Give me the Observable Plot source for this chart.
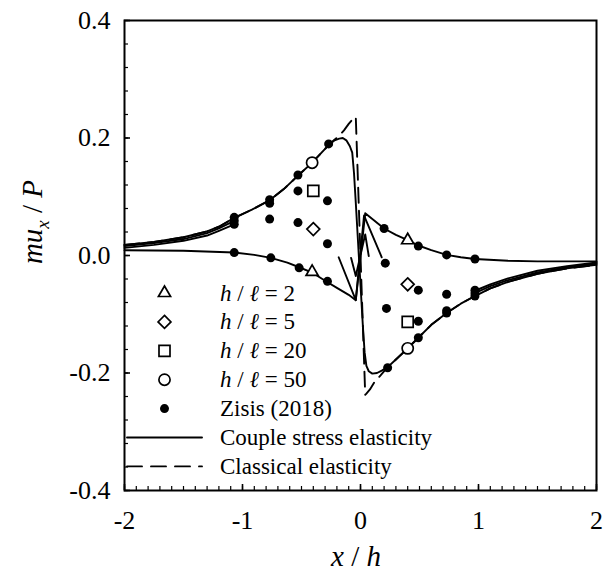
<!DOCTYPE html>
<html><head><meta charset="utf-8">
<script src="https://cdn.jsdelivr.net/npm/d3@7"></script>
<script src="https://cdn.jsdelivr.net/npm/@observablehq/plot@0.6"></script>
<style>
body{margin:0;background:#fff}
#chart{width:605px;height:577px}
</style>
</head><body><div id="chart"></div>
<script>
// ---------- data ----------
// Couple stress elasticity, h/l = 50
const h50X = [-2,-1.75,-1.5,-1.3,-1.2,-1.07,-0.92,-0.77,-0.65,-0.53,-0.41,-0.33,-0.27,-0.22,-0.18,-0.15,-0.12,-0.09,-0.07,-0.055,-0.04,-0.02,0,0.02,0.035,0.05,0.07,0.1,0.14,0.18,0.23,0.3,0.4,0.49,0.6,0.73,0.85,0.97,1.1,1.25,1.5,1.75,2];
const h50Y = [0.018,0.023,0.031,0.041,0.049,0.064,0.078,0.094,0.113,0.136,0.158,0.175,0.188,0.196,0.199,0.2,0.196,0.186,0.175,0.14,0.09,0.02,-0.05,-0.12,-0.165,-0.188,-0.197,-0.201,-0.2,-0.196,-0.19,-0.177,-0.158,-0.14,-0.118,-0.098,-0.082,-0.069,-0.056,-0.045,-0.031,-0.022,-0.016];
// h/l = 20 (visible pieces)
const h20X = [-2,-1.75,-1.5,-1.3,-1.2,-1.07,null,-0.08,-0.04,0.04,0.07,null,0.97,1.1,1.25,1.5,1.75,2];
const h20Y = [0.016,0.021,0.028,0.038,0.046,0.059,null,-0.004,-0.035,0.036,-0.001,null,-0.064,-0.052,-0.042,-0.029,-0.02,-0.014];
// h/l = 5 (visible pieces)
const h5X = [-2,-1.75,-1.5,-1.3,-1.2,-1.07,null,-0.185,-0.04,0.03,0.18,null,0.97,1.1,1.25,1.5,1.75,2];
const h5Y = [0.013,0.018,0.025,0.034,0.042,0.053,null,-0.003,-0.076,0.068,-0.003,null,-0.06,-0.049,-0.039,-0.026,-0.018,-0.012];
// h/l = 2
const h2X = [-2,-1.5,-1.07,-0.9,-0.76,-0.62,-0.52,-0.41,-0.3,-0.2,-0.1,-0.04,0.04,0.2,0.3,0.4,0.49,0.6,0.73,0.85,0.97,1.25,1.5,2];
const h2Y = [0.009,0.008,0.005,0.001,-0.004,-0.012,-0.02,-0.029,-0.043,-0.055,-0.067,-0.076,0.072,0.046,0.035,0.026,0.017,0.009,0.001,-0.003,-0.006,-0.009,-0.01,-0.01];
// Classical elasticity
const clX = [-2,-1.75,-1.5,-1.3,-1.2,-1.07,-0.92,-0.77,-0.65,-0.53,-0.41,-0.33,-0.27,-0.22,-0.18,-0.14,-0.1,-0.07,-0.05,-0.04,0.04,0.05,0.08,0.12,0.17,0.23,0.3,0.4,0.49,0.6,0.73,0.85,0.97,1.1,1.25,1.5,1.75,2];
const clY = [0.018,0.023,0.031,0.041,0.049,0.064,0.078,0.094,0.113,0.136,0.158,0.175,0.188,0.197,0.204,0.213,0.224,0.231,0.235,0.236,-0.237,-0.235,-0.228,-0.215,-0.204,-0.19,-0.177,-0.158,-0.14,-0.118,-0.098,-0.082,-0.069,-0.056,-0.045,-0.031,-0.022,-0.016];
// hollow markers
const triX = [-0.41, 0.40], triY = [-0.028, 0.026];
const diaX = [-0.40, 0.40], diaY = [0.045, -0.049];
const sqX  = [-0.40, 0.40], sqY  = [0.110, -0.113];
const cirX = [-0.41, 0.40], cirY = [0.158, -0.158];
// Zisis (2018)
const zX = [-1.07,-1.07,-1.07,-1.07,-0.77,-0.77,-0.77,-0.76,-0.53,-0.53,-0.53,-0.52,-0.27,-0.28,-0.28,-0.28,0.20,0.21,0.22,0.23,0.49,0.49,0.49,0.49,0.73,0.73,0.73,0.73,0.97,0.97,0.97,0.97];
const zY = [0.065,0.059,0.053,0.005,0.095,0.089,0.062,-0.004,0.137,0.110,0.056,-0.021,0.190,0.093,0.020,-0.044,0.046,-0.013,-0.090,-0.191,0.016,-0.059,-0.112,-0.140,0.001,-0.066,-0.094,-0.098,-0.006,-0.059,-0.064,-0.069];
// ticks
const xTicks = [-2,-1,0,1,2], xTickLabels = ["-2","-1","0","1","2"];
const yTicks = [-0.4,-0.2,0,0.2,0.4], yTickLabels = ["-0.4","-0.2","0.0","0.2","0.4"];
const legendLabels = ["2","5","20","50"];

// ---------- layout ----------
const W = 605, H = 577, ML = 124, MR = 9, MT = 20, MB = 87;
const PW = W - ML - MR, PH = H - MT - MB;
const FONT = "Liberation Serif, Times New Roman, serif";
const TICKFS = 26, TITLEFS = 29, LF = 23;

const pts = (xs, ys) => xs.map((x, i) => ({x, y: ys[i]}));
const xMinor = d3.range(0, 41).map(i => -2 + i * 0.1);
const yMinor = d3.range(0, 21).map(i => -0.4 + i * 0.04);

// legend positions (pixel -> data)
const sx = d3.scaleLinear([-2, 2], [ML, W - MR]);
const sy = d3.scaleLinear([-0.4, 0.4], [H - MB, MT]);
const rowY = i => 292.5 + 28.9 * i;
const legSymX = sx.invert(164);

const lineStyle = {x: "x", y: "y", stroke: "black", strokeWidth: 1.9};
const hollow = {x: "x", y: "y", stroke: "black", strokeWidth: 1.7, fill: "white"};

const markerDefs = [
  {xs: triX, ys: triY, symbol: "triangle2", r: 5.8},
  {xs: diaX, ys: diaY, symbol: "diamond2", r: 5.8},
  {xs: sqX, ys: sqY, symbol: "square2", r: 7.0},
  {xs: cirX, ys: cirY, symbol: "circle", r: 5.6}
];

const marks = [
  Plot.line(pts(clX, clY), {...lineStyle, strokeDasharray: "15,8"}),
  Plot.line(pts(h2X, h2Y), lineStyle),
  Plot.line(pts(h5X, h5Y), lineStyle),
  Plot.line(pts(h20X, h20Y), lineStyle),
  Plot.line(pts(h50X, h50Y), lineStyle),
  Plot.dot(pts(zX, zY), {x: "x", y: "y", r: 4.5, fill: "black", stroke: "none"}),
  ...markerDefs.map(m => Plot.dot(pts(m.xs, m.ys), {...hollow, symbol: m.symbol, r: m.r})),
  // legend symbols
  ...markerDefs.map((m, i) => Plot.dot([{x: legSymX, y: sy.invert(rowY(i))}], {...hollow, symbol: m.symbol, r: m.r})),
  Plot.dot([{x: legSymX, y: sy.invert(rowY(4))}], {x: "x", y: "y", r: 4.5, fill: "black"}),
  Plot.line([{x: sx.invert(126.5), y: sy.invert(rowY(5))}, {x: sx.invert(201.5), y: sy.invert(rowY(5))}], lineStyle),
  Plot.line([{x: sx.invert(126.5), y: sy.invert(rowY(6))}, {x: sx.invert(201.5), y: sy.invert(rowY(6))}], {...lineStyle, strokeDasharray: "15,9"}),
  // inside ticks
  Plot.ruleY(yMinor, {y: d => d, insetRight: PW - 4, stroke: "black", strokeWidth: 1.2}),
  Plot.ruleY(yTicks, {y: d => d, insetRight: PW - 6, stroke: "black", strokeWidth: 1.6}),
  Plot.ruleX(xMinor, {x: d => d, insetTop: PH - 4, stroke: "black", strokeWidth: 1.2}),
  Plot.ruleX(xTicks, {x: d => d, insetTop: PH - 6, stroke: "black", strokeWidth: 1.6}),
  Plot.axisX({ticks: xTicks, tickSize: 0, tickPadding: 20, tickFormat: (d) => xTickLabels[xTicks.indexOf(d)], label: null, fontSize: TICKFS, fontFamily: FONT}),
  Plot.axisY({ticks: yTicks, tickSize: 0, tickPadding: 14, tickFormat: (d) => yTickLabels[yTicks.findIndex(t => Math.abs(t - d) < 1e-9)], label: null, fontSize: TICKFS, fontFamily: FONT}),
  Plot.frame({stroke: "black", strokeWidth: 2})
];

const svg = Plot.plot({
  width: W, height: H,
  marginLeft: ML, marginRight: MR, marginTop: MT, marginBottom: MB,
  x: {domain: [-2, 2]},
  y: {domain: [-0.4, 0.4]},
  style: {fontSize: TICKFS + "px", color: "black", background: "white", overflow: "visible"},
  marks
});

// ---------- rich text: legend labels and axis titles ----------
const g = d3.select(svg).append("g").attr("font-family", FONT).attr("fill", "black").attr("text-anchor", "start");
legendLabels.forEach((n, i) => {
  const t = g.append("text").attr("x", 220).attr("y", rowY(i) + 8).attr("font-size", LF);
  t.append("tspan").attr("font-style", "italic").text("h");
  t.append("tspan").text(" / ");
  t.append("tspan").attr("font-style", "italic").text("ℓ");
  t.append("tspan").text(" = " + n);
});
g.append("text").attr("x", 220).attr("y", rowY(4) + 8).attr("font-size", LF).text("Zisis (2018)");
g.append("text").attr("x", 220).attr("y", rowY(5) + 8).attr("font-size", LF).text("Couple stress elasticity");
g.append("text").attr("x", 220).attr("y", rowY(6) + 8).attr("font-size", LF).text("Classical elasticity");

// x title
const xt = g.append("text").attr("x", 356).attr("y", 566).attr("text-anchor", "middle").attr("font-size", TITLEFS);
xt.append("tspan").attr("font-style", "italic").text("x");
xt.append("tspan").text(" / ");
xt.append("tspan").attr("font-style", "italic").text("h");

// y title
const yt = g.append("text").attr("transform", "translate(42,222) rotate(-90)").attr("text-anchor", "middle").attr("font-size", TITLEFS);
yt.append("tspan").attr("font-style", "italic").text("mu");
yt.append("tspan").attr("font-style", "italic").attr("font-size", 19).attr("dy", 7).text("x");
yt.append("tspan").attr("dy", -7).text(" / ");
yt.append("tspan").attr("font-style", "italic").text("P");

// serif face on every text element
d3.select(svg).attr("font-family", FONT).style("font-family", FONT);
d3.select(svg).selectAll("text, tspan").style("font-family", FONT);

document.getElementById("chart").appendChild(svg);
</script>
</body></html>
